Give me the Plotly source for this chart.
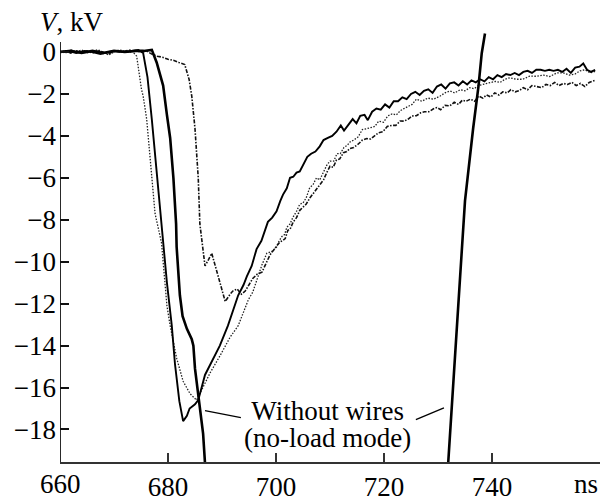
import plotly.graph_objects as go

# ---- data ----
# thin solid curve
s_t = [660, 661.5, 663, 664.5, 666, 667.5, 669, 670.5, 672, 673.5, 674.5, 675.4, 676.2, 677.0, 678.0,
       678.9, 679.8, 680.7, 681.3, 682.1, 682.8, 683.5, 684.0, 685.0, 685.6, 686.85, 688.1, 689.6,
       691.1, 692.0, 693.0, 694.0, 694.6, 695.5, 696.4, 697.3, 698.5, 699.3,
       700.1, 700.8, 701.3, 702.0, 702.6, 703.2, 703.8, 704.4, 705.0, 705.8, 706.5, 707.3, 708.1,
       708.8, 709.6, 710.4, 711.2, 712.0, 712.6, 713.4, 714.2, 714.9, 715.6, 716.4, 717.0, 717.8,
       718.6, 719.4, 720.2, 721.0, 721.8, 722.6, 723.4, 724.2, 725.0, 725.8, 726.6, 727.4, 728.2,
       729.0, 729.8, 730.6, 731.4, 732.2, 733.0, 733.8, 734.6, 735.4, 736.2, 737.0, 737.8, 738.6,
       739.4, 740.2, 741.0, 741.8, 742.6, 743.4, 744.2, 745.0, 745.8, 746.6, 747.4, 748.2, 749.0,
       749.8, 750.6, 751.4, 752.2, 753.0, 753.8, 754.6, 755.4, 756.2, 756.9, 757.6, 758.3, 759.1]
s_v = [0.0, 0.05, -0.05, 0.05, 0.0, -0.1, 0.0, 0.05, 0.0, 0.05, 0.1, -0.05, -1.2, -3.2, -5.9,
       -8.5, -11.0, -13.05, -14.9, -16.65, -17.6, -17.35, -17.0, -16.8, -16.6, -15.4, -14.75, -14.0,
       -13.05, -12.4, -11.6, -11.1, -10.7, -10.2, -9.4, -9.0, -8.1, -7.9,
       -7.6, -7.1, -6.8, -6.5, -6.0, -5.95, -5.75, -5.7, -5.4, -5.0, -4.85, -4.75, -4.5,
       -4.2, -4.1, -4.0, -3.8, -3.5, -3.75, -3.45, -3.2, -3.4, -3.05, -3.0, -3.25, -2.85,
       -2.7, -2.75, -2.5, -2.65, -2.35, -2.35, -2.16, -2.25, -2.0, -1.9, -2.05, -1.85, -1.78,
       -1.95, -1.65, -1.55, -1.75, -1.5, -1.45, -1.6, -1.4, -1.55, -1.35, -1.45, -1.3, -1.4,
       -1.2, -1.3, -1.1, -1.2, -1.05, -1.1, -1.0, -1.1, -0.95, -0.9, -1.0, -0.85, -0.85,
       -0.9, -0.85, -0.9, -0.85, -0.95, -0.8, -1.0, -0.75, -0.7, -0.55, -0.85, -0.95, -0.85]

# no-load mode (without wires), thick solid; falls below the axis range and returns
n_t = [660, 662, 664, 666, 668, 670, 672, 674, 675.5, 677.0, 677.9, 679.1, 679.8, 680.4, 681.0,
       681.5, 681.6, 682.2, 682.7, 683.5, 684.4, 684.7, 685.0, 685.8, 686.5, 686.85, 687.1,
       None,
       731.4, 731.9, 734.1, 735.0, 736.5, 737.5, 738.1, 738.7]
n_v = [0.0, 0.05, -0.05, 0.05, -0.05, 0.05, 0.0, 0.05, 0.05, 0.1, -0.5, -1.6, -3.0, -4.1, -6.0,
       -8.2, -9.3, -11.6, -12.6, -13.2, -13.7, -14.0, -15.1, -16.65, -18.2, -19.6, -21.0,
       None,
       -21.0, -19.55, -10.7, -7.1, -3.66, -1.63, -0.06, 0.88]

# dotted curve
d_t = [660, 661, 662, 663, 664, 665, 666, 667, 668, 669, 670, 671, 672, 673, 673.5, 674.2, 675.1,
       675.4, 676.05, 676.7, 677.6, 678.8, 679.8, 680.4, 681.6, 682.8, 684.1, 685.3, 687.8, 689.6,
       691.5, 693.0, 693.9, 694.9, 695.7, 696.7, 697.4, 698.3, 699.3,
       700.1, 700.6, 701.1, 701.6, 702.0, 702.6, 703.1, 703.8, 704.4, 705.0, 705.6, 706.2, 706.9,
       707.5, 708.1, 708.7, 709.4, 710.0, 710.7, 711.3, 711.9, 712.6, 713.2, 713.7, 714.4, 715.2,
       716.0, 716.8, 717.6, 718.3, 719.0, 719.9, 720.7, 721.5, 722.3, 723.0, 723.7, 724.4, 725.2,
       726.0, 727.0, 728.1, 729.2, 730.4, 731.3, 732.2, 733.1, 734.1, 735.0, 735.9, 736.7, 737.5,
       738.4, 739.3, 740.6, 741.5, 742.4, 743.3, 744.5, 745.7, 747.0, 748.3, 749.5, 750.7, 752.0,
       753.2, 754.3, 755.4, 756.3, 757.2, 758.2, 759.1]
d_v = [0.05, -0.05, 0.1, 0.0, 0.1, -0.05, 0.05, 0.1, 0.0, -0.15, 0.0, 0.1, 0.05, 0.1, 0.0, -0.2, -1.8,
       -2.1, -3.2, -5.2, -7.7, -9.1, -12.1, -13.05, -14.6, -15.7, -16.3, -16.6, -15.3, -14.5,
       -13.6, -13.05, -12.5, -11.8, -11.45, -10.7, -10.15, -9.6, -9.5,
       -9.3, -9.0, -8.8, -8.7, -8.36, -8.2, -7.9, -7.6, -7.26, -7.2, -6.95, -6.5, -6.3,
       -6.0, -6.1, -5.8, -5.4, -5.2, -5.2, -4.85, -4.85, -4.55, -4.45, -4.29, -4.2, -4.05,
       -3.7, -3.66, -3.6, -3.55, -3.3, -3.35, -3.05, -2.95, -3.0, -2.8, -2.7, -2.6, -2.5,
       -2.25, -2.35, -2.2, -2.25, -2.1, -1.95, -1.86, -1.95, -1.8, -1.85, -1.7, -1.75, -1.6,
       -1.55, -1.5, -1.4, -1.45, -1.3, -1.23, -1.3, -1.3, -1.15, -1.16, -1.1, -1.17, -1.0,
       -1.0, -1.1, -1.05, -0.9, -0.85, -1.0, -0.92]

# dash-dot curve
dd_t = [660, 661, 662, 663, 664, 665, 666, 667, 668, 669, 670, 671, 672, 673, 674, 675, 676, 677,
        678, 679, 680, 681, 682, 683.1, 683.9, 684.4, 685.0, 685.6, 685.9, 686.2, 686.85, 687.5,
        688.1, 689.3, 690.0, 690.6, 691.5, 692.0, 692.8, 693.6, 694.3, 695.7, 696.5, 697.4, 698.9,
        700.7, 701.2, 701.7, 702.2, 702.6, 703.2, 703.8, 704.4, 705.0, 705.6, 706.3, 707.0, 707.6,
        708.2, 708.8, 709.4, 710.0, 710.6, 711.2, 711.8, 712.5, 713.1, 713.7, 714.4, 715.2, 716.0,
        716.8, 717.5, 718.3, 719.0, 719.8, 720.6, 721.5, 722.2, 723.0, 723.7, 724.5, 725.2, 726.0,
        726.8, 727.5, 728.3, 729.1, 729.8, 730.5, 731.3, 732.2, 733.0, 733.8, 734.5, 735.2, 736.0,
        736.8, 737.5, 738.3, 739.0, 739.8, 740.5, 741.3, 742.0, 742.8, 743.5, 744.3, 745.0, 745.8,
        746.6, 747.4, 748.3, 749.2, 750.0, 750.8, 751.6, 752.4, 753.2, 754.0, 754.8, 755.6, 756.4,
        757.2, 758.0, 758.6, 759.1]
dd_v = [0.0, 0.05, -0.05, 0.05, 0.0, 0.05, -0.05, 0.05, 0.0, -0.1, 0.05, 0.0, 0.05, 0.0, 0.05, 0.0,
        0.05, -0.1, -0.2, -0.25, -0.35, -0.4, -0.5, -0.6, -1.3, -2.1, -3.66, -6.0, -8.2, -8.8,
        -10.2, -9.9, -9.6, -10.7, -11.4, -11.9, -11.55, -11.4, -11.3, -11.55, -11.4, -10.8, -10.6,
        -10.5, -9.67,
        -9.06, -9.0, -8.9, -8.5, -8.45, -8.1, -7.9, -7.55, -7.4, -7.25, -6.95, -6.7, -6.5,
        -6.3, -6.1, -5.75, -5.45, -5.5, -5.15, -5.1, -4.8, -4.75, -4.6, -4.55, -4.4, -4.2,
        -4.13, -4.15, -4.0, -3.85, -3.8, -3.55, -3.5, -3.5, -3.29, -3.3, -3.2, -3.05, -3.04,
        -2.9, -2.85, -2.85, -2.72, -2.65, -2.75, -2.55, -2.57, -2.4, -2.5, -2.3, -2.35, -2.25,
        -2.35, -2.1, -2.2, -2.05, -2.15, -1.95, -2.05, -1.9, -1.95, -1.8, -1.9, -1.85, -1.7,
        -1.8, -1.6, -1.65, -1.7, -1.55, -1.6, -1.45, -1.6, -1.5, -1.55, -1.45, -1.6, -1.5,
        -1.65, -1.45, -1.4, -1.35]

x_ticks = [660, 680, 700, 720, 740, 760]
x_tick_text = ["", "680", "700", "720", "740", ""]
y_ticks = [0, -2, -4, -6, -8, -10, -12, -14, -16, -18]
y_tick_text = ["0", "−2", "−4", "−6", "−8", "−10", "−12", "−14", "−16", "−18"]

FONT = "Liberation Serif"
FS = 27

fig = go.Figure()
fig.add_trace(go.Scatter(x=d_t, y=d_v, mode="lines",
                         line=dict(color="#222", width=1.3, dash="1.5px,1.5px")))
fig.add_trace(go.Scatter(x=dd_t, y=dd_v, mode="lines",
                         line=dict(color="#111", width=1.6, dash="4px,1.5px,1.5px,1.5px")))
fig.add_trace(go.Scatter(x=s_t, y=s_v, mode="lines",
                         line=dict(color="#000", width=1.9)))
fig.add_trace(go.Scatter(x=n_t, y=n_v, mode="lines", connectgaps=False,
                         line=dict(color="#000", width=2.6)))

fig.update_layout(
    width=600, height=502,
    margin=dict(l=60, r=0, t=31, b=34),
    paper_bgcolor="white", plot_bgcolor="white",
    showlegend=False,
    font=dict(family=FONT, size=FS, color="black"),
)
fig.update_xaxes(range=[660, 760], tickvals=x_ticks, ticktext=x_tick_text,
                 ticks="inside", ticklen=9, tickwidth=1.5, tickcolor="#333",
                 showline=True, linecolor="#333", linewidth=2,
                 showgrid=False, zeroline=False,
                 tickfont=dict(family=FONT, size=FS, color="black"))
fig.update_yaxes(range=[-19.55, 1.0], tickvals=y_ticks, ticktext=y_tick_text,
                 ticks="inside", ticklen=9, tickwidth=1.5, tickcolor="#111",
                 showline=False, showgrid=False, zeroline=False,
                 ticklabelstandoff=3,
                 tickfont=dict(family=FONT, size=FS, color="black"))

# y axis line (stops just above the 0 tick)
fig.add_shape(type="line", xref="x", yref="y", x0=660, x1=660, y0=-19.55, y1=0.48,
              line=dict(color="#111", width=1.8))

# first x tick label and axis titles
fig.add_annotation(text="660", xref="x", yref="paper", x=660, y=-0.05,
                   xanchor="center", yanchor="middle", showarrow=False,
                   font=dict(family=FONT, size=FS, color="black"))
fig.add_annotation(text="<i>V</i>, kV", xref="paper", yref="paper", x=-0.04, y=1.02,
                   xanchor="left", yanchor="middle", showarrow=False,
                   font=dict(family=FONT, size=FS, color="black"))
fig.add_annotation(text="ns", xref="x", yref="paper", x=760, y=-0.05,
                   xanchor="right", yanchor="middle", showarrow=False,
                   font=dict(family=FONT, size=FS, color="black"))

# label for no-load curves (tight line spacing: base size 21 -> 1.3*21 ≈ 27 px per line)
fig.add_annotation(text='<span style="font-size:27px">Without wires</span><br>'
                        '<span style="font-size:27px">(no-load mode)</span>',
                   xref="x", yref="y", x=709.6, y=-17.75,
                   xanchor="center", yanchor="middle", showarrow=False,
                   font=dict(family=FONT, size=21, color="black"))
fig.add_shape(type="line", xref="x", yref="y", x0=686.85, y0=-17.1, x1=693.5, y1=-17.43,
              line=dict(color="black", width=1.3))
fig.add_shape(type="line", xref="x", yref="y", x0=725.9, y0=-17.53, x1=731.1, y1=-16.97,
              line=dict(color="black", width=1.3))

fig.write_html("out.html")
